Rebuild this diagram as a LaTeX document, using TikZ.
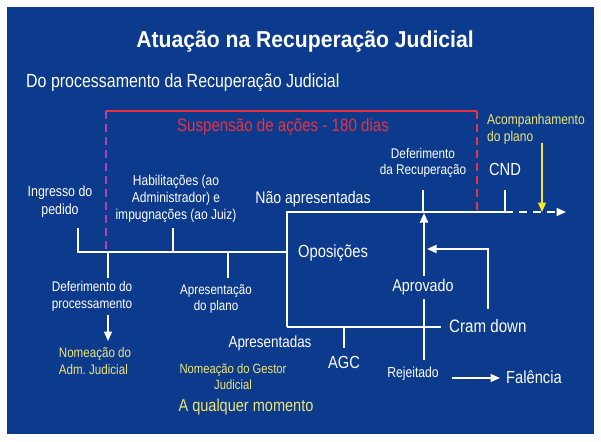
\documentclass[tikz,border=0pt]{standalone}
\usepackage{fontspec}
\setmainfont[FakeStretch=0.84]{Liberation Sans}
\newfontfamily\headfont[FakeStretch=0.92]{Liberation Sans}
\usetikzlibrary{arrows.meta}
\definecolor{bgblue}{RGB}{12,58,140}
\definecolor{palegold}{RGB}{238,228,120}
\definecolor{brightgold}{RGB}{246,232,30}
\definecolor{alertred}{RGB}{232,52,64}
\definecolor{dashpink}{RGB}{178,64,176}
\tikzset{
  lbl/.style={text=white,inner sep=0pt,align=center},
  yel/.style={text=palegold,inner sep=0pt,align=center},
  sz/.style={font=\fontsize{#1}{\dimexpr #1pt*12/10\relax}\selectfont},
  flow/.style={draw=white,line width=1.8pt},
  tip/.style={-{Triangle[length=9.5pt,width=8pt]}}
}
\begin{document}
\begin{tikzpicture}[x=1pt,y=-1pt]
    \useasboundingbox (0,0) rectangle (601,441);
    \fill[white] (0,0) rectangle (601,441);
    \fill[bgblue] (7,7) rectangle (594,434);

    % headings
    \node[lbl,sz=23] (title) at (305,42) {\headfont\bfseries Atuação na Recuperação Judicial};
    \node[lbl,sz=19,anchor=west] (subtitle) at (26,83) {Do processamento da Recuperação Judicial};

    % 180 dias
    \coordinate (sl) at (106,111);
    \coordinate (sr) at (477,111);
    \draw[alertred,line width=1.5pt] (sl) -- (sr);
    \draw[dashpink,line width=1.5pt,dash pattern=on 8pt off 5pt] (sl) -- (106,250);
    \draw[alertred,line width=1.5pt,dash pattern=on 8pt off 5pt] (sr) -- (477,210);
    \node[sz=18,text=alertred,inner sep=0pt] (susp) at (283,127) {Suspensão de ações - 180 dias};

    % labels
    \node[yel,sz=14.3,anchor=west,align=left] (acomp) at (487,129) {Acompanhamento\\do plano};
    \node[lbl,sz=14] (defrec) at (423,163) {Deferimento\\da Recuperação};
    \node[lbl,sz=17.5] (cnd) at (505,169) {CND};
    \node[lbl,sz=16.8] (naoap) at (313,199) {Não apresentadas};
    \node[lbl,sz=14.7] (ingresso) at (60,202) {Ingresso do\\pedido};
    \node[lbl,sz=14.3] (habil) at (176,199) {Habilitações (ao\\Administrador) e\\impugnações (ao Juiz)};
    \node[lbl,sz=17.6] (opos) at (333,253) {Oposições};
    \node[lbl,sz=17] (aprov) at (423,287) {Aprovado};
    \node[lbl,sz=18,anchor=west] (cram) at (449,326) {Cram down};
    \node[lbl,sz=16] (apres) at (270,343) {Apresentadas};
    \node[lbl,sz=17.5] (agc) at (344,362) {AGC};
    \node[lbl,sz=14.5] (rejeit) at (413,374) {Rejeitado};
    \node[lbl,sz=17.5,anchor=west] (falen) at (506,377) {Falência};
    \node[lbl,sz=14] (defproc) at (92,296) {Deferimento do\\processamento};
    \node[lbl,sz=13.8] (aprplano) at (216,299) {Apresentação\\do plano};
    \node[yel,sz=13.8,align=left] (nomadm) at (95,361) {Nomeação do\\Adm.\ Judicial};
    \node[yel,sz=13.4] (nomgest) at (233,377) {Nomeação do Gestor\\Judicial};
    \node[yel,sz=17.3] (qualquer) at (246,407) {A qualquer momento};

    % junction points
    \coordinate (m0) at (78,252);
    \coordinate (mdef) at (108,252);
    \coordinate (mhab) at (173,252);
    \coordinate (mapr) at (228,252);
    \coordinate (mop) at (287,252);
    \coordinate (ctop) at (287,212);
    \coordinate (clow) at (287,327);
    \coordinate (udef) at (423,212);
    \coordinate (ucnd) at (505,212);
    \coordinate (uend) at (566,212);
    \coordinate (lend) at (441,327);
    \coordinate (lagc) at (344,327);

    % timeline
    \draw[flow] (78,228) -- (m0) -- (mop);
    \draw[flow] (mhab) -- (173,228);
    \draw[flow] (mdef) -- (108,278);
    \draw[flow] (mapr) -- (228,278);
    \draw[flow] (clow) -- (ctop) -- (ucnd);
    \draw[flow] (udef) -- (423,190);
    \draw[flow] (ucnd) -- (505,190);
    \draw[flow,dash pattern=on 8pt off 6pt,tip] (ucnd) -- (uend);
    \draw[flow] (clow) -- (lend);
    \draw[flow] (lagc) -- (344,348);

    % AGC outcomes
    \draw[flow,tip] (424,276) -- (424,213);
    \draw[flow] (424,299) -- (424,360);
    \draw[flow,tip] (488,309) |- (427,249);
    \draw[flow,line width=1.5pt,tip] (452,378) -- (500,378);
    \draw[flow,tip] (108,315) -- (108,341);
    \draw[brightgold,line width=1.5pt,tip] (542,143) -- (542,212);
\end{tikzpicture}
\end{document}
